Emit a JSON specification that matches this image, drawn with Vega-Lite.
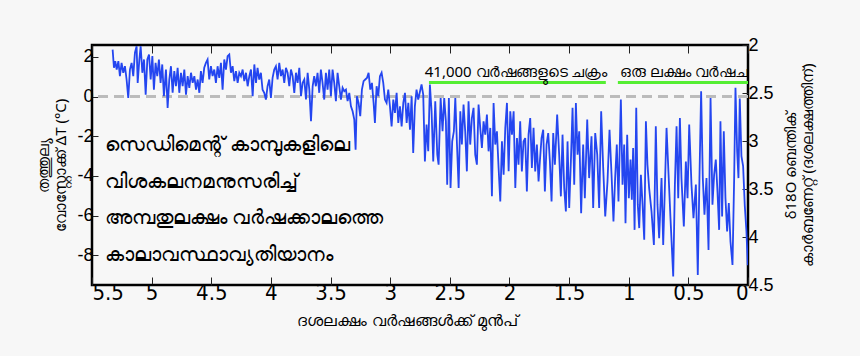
{
  "$schema": "https://vega.github.io/schema/vega-lite/v6.json",
  "autosize": "none",
  "width": 656,
  "height": 240,
  "padding": {"left": 92, "top": 45, "right": 112, "bottom": 71},
  "background": "#f7f7f7",
  "config": {
    "view": {"stroke": "#000", "strokeWidth": 2.5, "fill": "#f7f7f7"},
    "font": "Liberation Sans",
    "axis": {"domain": false, "grid": false, "tickColor": "#222", "tickWidth": 1, "labelColor": "#000", "titleColor": "#000", "titleFontWeight": "normal"}
  },
  "datasets": {
    "series": [
      {"age":5.327,"dT":2.37},{"age":5.316,"dT":1.45},{"age":5.305,"dT":1.79},{"age":5.293,"dT":1.36},{"age":5.279,"dT":1.79},{"age":5.266,"dT":1.03},{"age":5.252,"dT":1.70},{"age":5.238,"dT":1.20},{"age":5.224,"dT":1.53},{"age":5.210,"dT":0.86},
      {"age":5.196,"dT":-0.07},{"age":5.182,"dT":1.36},{"age":5.168,"dT":1.70},{"age":5.154,"dT":1.03},{"age":5.140,"dT":2.21},{"age":5.126,"dT":2.54},{"age":5.117,"dT":0.69},{"age":5.103,"dT":1.87},{"age":5.092,"dT":2.54},{"age":5.078,"dT":1.20},
      {"age":5.064,"dT":1.87},{"age":5.050,"dT":0.10},{"age":5.036,"dT":1.87},{"age":5.022,"dT":2.12},{"age":5.008,"dT":0.86},{"age":4.994,"dT":2.04},{"age":4.981,"dT":0.35},{"age":4.967,"dT":1.70},{"age":4.953,"dT":1.03},{"age":4.939,"dT":1.87},
      {"age":4.925,"dT":0.69},{"age":4.911,"dT":1.62},{"age":4.897,"dT":0.02},{"age":4.880,"dT":1.36},{"age":4.866,"dT":-0.57},{"age":4.852,"dT":0.86},{"age":4.838,"dT":1.53},{"age":4.824,"dT":0.19},{"age":4.810,"dT":1.28},{"age":4.796,"dT":0.52},
      {"age":4.782,"dT":1.45},{"age":4.768,"dT":0.19},{"age":4.754,"dT":1.20},{"age":4.740,"dT":0.52},{"age":4.726,"dT":1.36},{"age":4.712,"dT":0.10},{"age":4.698,"dT":1.03},{"age":4.684,"dT":0.44},{"age":4.670,"dT":1.20},{"age":4.656,"dT":0.69},
      {"age":4.642,"dT":1.03},{"age":4.628,"dT":0.35},{"age":4.614,"dT":0.86},{"age":4.600,"dT":0.19},{"age":4.587,"dT":1.28},{"age":4.573,"dT":0.69},{"age":4.559,"dT":1.45},{"age":4.545,"dT":1.70},{"age":4.531,"dT":1.87},{"age":4.517,"dT":0.86},
      {"age":4.503,"dT":1.53},{"age":4.489,"dT":1.03},{"age":4.475,"dT":1.36},{"age":4.461,"dT":0.69},{"age":4.447,"dT":1.53},{"age":4.433,"dT":0.94},{"age":4.419,"dT":1.70},{"age":4.405,"dT":0.35},{"age":4.391,"dT":1.87},{"age":4.377,"dT":1.36},
      {"age":4.363,"dT":2.04},{"age":4.349,"dT":2.12},{"age":4.335,"dT":1.20},{"age":4.321,"dT":1.53},{"age":4.307,"dT":0.78},{"age":4.293,"dT":1.28},{"age":4.279,"dT":0.69},{"age":4.265,"dT":1.20},{"age":4.251,"dT":1.03},{"age":4.237,"dT":1.36},
      {"age":4.223,"dT":0.78},{"age":4.209,"dT":1.20},{"age":4.195,"dT":0.52},{"age":4.181,"dT":1.03},{"age":4.167,"dT":1.36},{"age":4.153,"dT":0.02},{"age":4.139,"dT":1.62},{"age":4.125,"dT":0.69},{"age":4.112,"dT":1.45},{"age":4.098,"dT":0.86},
      {"age":4.084,"dT":1.20},{"age":4.070,"dT":0.35},{"age":4.056,"dT":0.19},{"age":4.042,"dT":-0.15},{"age":4.028,"dT":0.52},{"age":4.014,"dT":0.86},{"age":4.000,"dT":-0.07},{"age":3.986,"dT":0.94},{"age":3.972,"dT":1.36},{"age":3.958,"dT":1.53},
      {"age":3.944,"dT":0.86},{"age":3.930,"dT":1.70},{"age":3.916,"dT":1.03},{"age":3.902,"dT":1.36},{"age":3.888,"dT":0.69},{"age":3.874,"dT":1.45},{"age":3.860,"dT":1.20},{"age":3.846,"dT":0.52},{"age":3.832,"dT":1.36},{"age":3.818,"dT":1.03},
      {"age":3.804,"dT":0.19},{"age":3.790,"dT":1.20},{"age":3.776,"dT":0.69},{"age":3.762,"dT":1.45},{"age":3.748,"dT":0.02},{"age":3.734,"dT":0.69},{"age":3.720,"dT":0.86},{"age":3.706,"dT":-0.15},{"age":3.692,"dT":1.20},{"age":3.678,"dT":0.35},
      {"age":3.664,"dT":-1.24},{"age":3.650,"dT":0.52},{"age":3.637,"dT":1.03},{"age":3.623,"dT":0.52},{"age":3.609,"dT":1.20},{"age":3.595,"dT":0.19},{"age":3.581,"dT":1.36},{"age":3.567,"dT":0.69},{"age":3.553,"dT":-0.15},{"age":3.539,"dT":1.20},
      {"age":3.525,"dT":0.35},{"age":3.511,"dT":1.36},{"age":3.497,"dT":0.02},{"age":3.483,"dT":1.36},{"age":3.469,"dT":0.69},{"age":3.455,"dT":-0.23},{"age":3.441,"dT":1.20},{"age":3.427,"dT":0.52},{"age":3.413,"dT":-0.15},{"age":3.399,"dT":0.44},
      {"age":3.385,"dT":0.27},{"age":3.371,"dT":0.35},{"age":3.357,"dT":-0.23},{"age":3.343,"dT":0.19},{"age":3.329,"dT":-0.49},{"age":3.315,"dT":-0.74},{"age":3.301,"dT":-1.16},{"age":3.290,"dT":-2.68},{"age":3.279,"dT":0.02},{"age":3.265,"dT":-0.32},
      {"age":3.251,"dT":-0.99},{"age":3.237,"dT":0.35},{"age":3.223,"dT":0.78},{"age":3.209,"dT":0.86},{"age":3.195,"dT":0.94},{"age":3.181,"dT":1.20},{"age":3.167,"dT":0.35},{"age":3.153,"dT":0.69},{"age":3.139,"dT":-0.32},{"age":3.128,"dT":-1.33},
      {"age":3.114,"dT":0.52},{"age":3.100,"dT":0.02},{"age":3.086,"dT":1.03},{"age":3.072,"dT":1.20},{"age":3.058,"dT":0.69},{"age":3.044,"dT":-0.15},{"age":3.030,"dT":-0.32},{"age":3.016,"dT":0.35},{"age":3.002,"dT":-0.49},{"age":2.988,"dT":-1.50},
      {"age":2.974,"dT":-0.15},{"age":2.960,"dT":-0.82},{"age":2.946,"dT":0.19},{"age":2.932,"dT":-1.33},{"age":2.918,"dT":-0.49},{"age":2.904,"dT":-1.50},{"age":2.890,"dT":-0.32},{"age":2.876,"dT":0.19},{"age":2.862,"dT":-1.33},{"age":2.848,"dT":-0.32},
      {"age":2.834,"dT":-1.67},{"age":2.820,"dT":0.02},{"age":2.807,"dT":-2.84},{"age":2.793,"dT":-0.49},{"age":2.779,"dT":0.35},{"age":2.765,"dT":-0.15},
      {"age":2.737,"dT":0.61},{"age":2.723,"dT":0.10},{"age":2.709,"dT":-3.27},{"age":2.695,"dT":-1.41},{"age":2.681,"dT":-2.76},{"age":2.667,"dT":0.61},{"age":2.653,"dT":-0.74},{"age":2.639,"dT":-3.27},{"age":2.622,"dT":-0.24},{"age":2.605,"dT":-2.93},
      {"age":2.594,"dT":-3.43},{"age":2.577,"dT":-0.07},{"age":2.561,"dT":-1.75},{"age":2.547,"dT":-0.07},{"age":2.533,"dT":-1.25},{"age":2.522,"dT":-4.44},{"age":2.508,"dT":-0.07},{"age":2.494,"dT":-4.61},{"age":2.480,"dT":-2.26},{"age":2.466,"dT":-1.75},
      {"age":2.454,"dT":-0.07},{"age":2.440,"dT":-2.42},{"age":2.426,"dT":-4.61},{"age":2.412,"dT":-0.74},{"age":2.399,"dT":-2.42},{"age":2.385,"dT":-0.40},{"age":2.371,"dT":-1.75},{"age":2.357,"dT":-3.77},{"age":2.343,"dT":-0.24},{"age":2.329,"dT":-2.42},
      {"age":2.315,"dT":-1.08},{"age":2.301,"dT":-0.57},{"age":2.287,"dT":-2.93},{"age":2.273,"dT":-3.43},{"age":2.259,"dT":-0.40},{"age":2.245,"dT":-1.58},{"age":2.231,"dT":-2.59},{"age":2.217,"dT":-1.25},{"age":2.203,"dT":-1.92},{"age":2.189,"dT":-0.91},
      {"age":2.175,"dT":-2.76},{"age":2.161,"dT":-1.58},{"age":2.147,"dT":-5.03},{"age":2.133,"dT":-0.32},{"age":2.119,"dT":-2.42},{"age":2.105,"dT":-1.75},{"age":2.091,"dT":-3.60},{"age":2.077,"dT":-5.29},{"age":2.063,"dT":-2.26},{"age":2.049,"dT":-3.94},
      {"age":2.035,"dT":-1.58},{"age":2.021,"dT":-0.32},{"age":2.007,"dT":-3.77},{"age":1.993,"dT":-0.74},{"age":1.979,"dT":-1.92},{"age":1.965,"dT":-0.74},{"age":1.951,"dT":-4.61},{"age":1.937,"dT":-2.09},{"age":1.924,"dT":-3.43},{"age":1.910,"dT":-1.25},
      {"age":1.896,"dT":-3.77},{"age":1.882,"dT":-2.26},{"age":1.868,"dT":-2.09},{"age":1.854,"dT":-4.78},{"age":1.840,"dT":-1.92},{"age":1.826,"dT":-1.08},{"age":1.812,"dT":-3.60},{"age":1.798,"dT":-1.58},{"age":1.784,"dT":-3.77},{"age":1.770,"dT":-2.42},
      {"age":1.756,"dT":-4.28},{"age":1.745,"dT":-3.27},{"age":1.731,"dT":-2.09},{"age":1.717,"dT":-1.67},{"age":1.703,"dT":-4.78},{"age":1.689,"dT":-2.42},{"age":1.675,"dT":-1.84},{"age":1.661,"dT":-3.27},{"age":1.647,"dT":-5.29},{"age":1.633,"dT":-1.84},
      {"age":1.619,"dT":-3.43},{"age":1.600,"dT":-0.91},{"age":1.583,"dT":-2.93},{"age":1.569,"dT":-5.03},{"age":1.555,"dT":-1.92},{"age":1.541,"dT":-4.61},{"age":1.527,"dT":-5.79},{"age":1.513,"dT":-2.26},{"age":1.499,"dT":-5.62},{"age":1.485,"dT":-3.27},
      {"age":1.471,"dT":-0.57},{"age":1.457,"dT":-4.44},{"age":1.443,"dT":-0.32},{"age":1.429,"dT":-2.93},{"age":1.415,"dT":-1.75},{"age":1.399,"dT":-5.88},{"age":1.382,"dT":-2.42},{"age":1.368,"dT":-5.12},{"age":1.348,"dT":-1.16},{"age":1.332,"dT":-4.11},
      {"age":1.312,"dT":-2.00},{"age":1.298,"dT":-5.62},{"age":1.281,"dT":-1.84},{"age":1.264,"dT":-2.93},{"age":1.248,"dT":-5.62},{"age":1.231,"dT":-0.74},{"age":1.214,"dT":-3.60},{"age":1.197,"dT":-6.04},{"age":1.178,"dT":-4.28},{"age":1.161,"dT":-1.67},
      {"age":1.144,"dT":-3.94},{"age":1.128,"dT":-6.30},{"age":1.114,"dT":-4.11},{"age":1.100,"dT":-2.42},{"age":1.086,"dT":-5.29},{"age":1.066,"dT":-0.15},{"age":1.052,"dT":-4.44},{"age":1.038,"dT":-2.42},{"age":1.027,"dT":-6.38},{"age":1.013,"dT":-1.92},
      {"age":0.999,"dT":-5.12},{"age":0.985,"dT":-3.18},{"age":0.974,"dT":-5.20},{"age":0.963,"dT":-2.59},{"age":0.951,"dT":-6.72},{"age":0.937,"dT":-0.57},{"age":0.924,"dT":-5.45},{"age":0.912,"dT":-6.63},{"age":0.898,"dT":-3.94},{"age":0.884,"dT":-5.45},
      {"age":0.870,"dT":-7.22},{"age":0.856,"dT":-1.25},{"age":0.843,"dT":-3.43},{"age":0.829,"dT":-4.61},{"age":0.809,"dT":-5.79},{"age":0.789,"dT":-7.48},{"age":0.773,"dT":-1.50},{"age":0.759,"dT":-5.45},{"age":0.745,"dT":-7.14},{"age":0.725,"dT":-4.11},
      {"age":0.711,"dT":-7.48},{"age":0.697,"dT":-4.61},{"age":0.683,"dT":-1.58},{"age":0.666,"dT":-3.94},{"age":0.650,"dT":-6.13},{"age":0.627,"dT":-9.07},{"age":0.613,"dT":-4.44},{"age":0.599,"dT":-1.50},{"age":0.585,"dT":-5.12},{"age":0.571,"dT":-1.08},
      {"age":0.558,"dT":-4.11},{"age":0.538,"dT":-6.55},{"age":0.521,"dT":-3.27},{"age":0.507,"dT":-5.12},{"age":0.493,"dT":-1.41},{"age":0.474,"dT":-4.44},{"age":0.457,"dT":-6.13},{"age":0.437,"dT":-4.44},{"age":0.421,"dT":-8.99},{"age":0.407,"dT":-4.11},
      {"age":0.393,"dT":0.27},{"age":0.379,"dT":-4.11},{"age":0.365,"dT":-5.96},{"age":0.348,"dT":-4.11},{"age":0.331,"dT":-7.73},{"age":0.314,"dT":-0.07},{"age":0.298,"dT":-5.45},{"age":0.284,"dT":-3.94},{"age":0.270,"dT":-3.18},{"age":0.256,"dT":-4.78},
      {"age":0.242,"dT":-6.72},{"age":0.231,"dT":-1.25},{"age":0.217,"dT":-6.04},{"age":0.203,"dT":-1.75},{"age":0.189,"dT":-5.12},{"age":0.175,"dT":-6.80},{"age":0.161,"dT":-5.37},{"age":0.147,"dT":-7.31},{"age":0.130,"dT":-8.49},{"age":0.116,"dT":-4.11},
      {"age":0.105,"dT":0.44},{"age":0.091,"dT":-2.76},{"age":0.080,"dT":-4.11},{"age":0.069,"dT":-0.10},{"age":0.055,"dT":-3.00},{"age":0.041,"dT":-3.50},{"age":0.027,"dT":-5.50},{"age":0.013,"dT":-6.80},{"age":0.002,"dT":-8.50}
    ],
    "cycles": [
      {"age":2.675,"age2":1.192,"dT":0.71},
      {"age":1.091,"age2":0.0,"dT":0.71}
    ],
    "cycleLabels": [
      {"age":2.71,"dT":1.26,"text":"41,000 വർഷങ്ങളുടെ ചക്രം"},
      {"age":1.07,"dT":1.26,"text":"ഒരു ലക്ഷം വർഷചക്രം"}
    ],
    "notes": [
      {"age":5.39,"dT":-2.42,"text":"സെഡിമെന്റ് കാമ്പുകളിലെ"},
      {"age":5.39,"dT":-4.29,"text":"വിശകലനമനുസരിച്ച്"},
      {"age":5.39,"dT":-6.11,"text":"അമ്പതുലക്ഷം വർഷക്കാലത്തെ"},
      {"age":5.39,"dT":-7.98,"text":"കാലാവസ്ഥാവ്യതിയാനം"}
    ],
    "rightScale": [
      {"age":5.5,"d18O":2.0},
      {"age":0.0,"d18O":4.5}
    ]
  },
  "layer": [
    {
      "layer": [
        {
          "data": {"name": "series"},
          "mark": {"type": "rule", "strokeDash": [10, 6], "color": "#bbbbbb", "strokeWidth": 2},
          "encoding": {"y": {"datum": 0, "type": "quantitative"}}
        },
        {
          "data": {"name": "series"},
          "mark": {"type": "line", "color": "#2446f0", "strokeWidth": 1.8, "clip": true},
          "encoding": {
            "x": {"field": "age", "type": "quantitative", "scale": {"domain": [0, 5.5], "reverse": true, "nice": false, "zero": false},
                  "axis": {"values": [0,0.5,1,1.5,2,2.5,3,3.5,4,4.5,5,5.5], "format": "~g", "tickSize": -8, "labelPadding": 5, "labelFont": "'DejaVu Sans Condensed', 'Liberation Sans'", "labelFontSize": 22, "title": "ദശലക്ഷം വർഷങ്ങൾക്ക് മുൻപ്", "titleFontSize": 16, "titlePadding": 9, "titleFont": "Noto Sans", "titleX": 315}},
            "y": {"field": "dT", "type": "quantitative", "scale": {"domain": [-9.5, 2.6], "nice": false, "zero": false},
                  "axis": {"values": [-8,-6,-4,-2,0,2], "format": "~g", "labelExpr": "replace(datum.label, '−', '-')", "tickSize": -6, "labelPadding": 5, "labelFontSize": 18, "title": ["തത്തുല്യ", "വോസ്റ്റോക്ക് ΔT (°C)"], "titleFontSize": 15, "titleFont": "Noto Sans", "titlePadding": 8, "titleLineHeight": 17}}
          }
        },
        {
          "data": {"name": "cycles"},
          "mark": {"type": "rule", "color": "#55ee33", "strokeWidth": 3},
          "encoding": {
            "x": {"field": "age", "type": "quantitative"},
            "x2": {"field": "age2"},
            "y": {"field": "dT", "type": "quantitative"}
          }
        },
        {
          "data": {"name": "cycleLabels"},
          "mark": {"type": "text", "align": "left", "baseline": "middle", "fontSize": 15, "font": "Noto Sans", "color": "#000", "clip": true},
          "encoding": {
            "x": {"field": "age", "type": "quantitative"},
            "y": {"field": "dT", "type": "quantitative"},
            "text": {"field": "text"}
          }
        },
        {
          "data": {"name": "notes"},
          "mark": {"type": "text", "align": "left", "baseline": "middle", "fontSize": 19.5, "font": "Noto Sans", "color": "#000"},
          "encoding": {
            "x": {"field": "age", "type": "quantitative"},
            "y": {"field": "dT", "type": "quantitative"},
            "text": {"field": "text"}
          }
        }
      ]
    },
    {
      "data": {"name": "rightScale"},
      "mark": {"type": "point", "opacity": 0},
      "encoding": {
        "x": {"field": "age", "type": "quantitative", "axis": {"orient": "top", "values": [0,0.5,1,1.5,2,2.5,3,3.5,4,4.5,5,5.5], "labels": false, "tickSize": -8, "title": null}},
        "y": {"field": "d18O", "type": "quantitative", "scale": {"domain": [2, 4.5], "reverse": true, "nice": false, "zero": false},
              "axis": {"orient": "right", "values": [2,2.5,3,3.5,4,4.5], "format": "~g", "tickSize": -6, "labelPadding": 6, "labelFontSize": 18, "title": ["δ18O ബെന്തിക്", "കാർബണേറ്റ് (ദശലക്ഷത്തിന്)"], "titleAngle": -90, "titleFontSize": 15, "titleFont": "Noto Sans", "titlePadding": 8, "titleLineHeight": 17}}
      }
    }
  ],
  "resolve": {"scale": {"y": "independent"}, "axis": {"x": "independent"}}
}
